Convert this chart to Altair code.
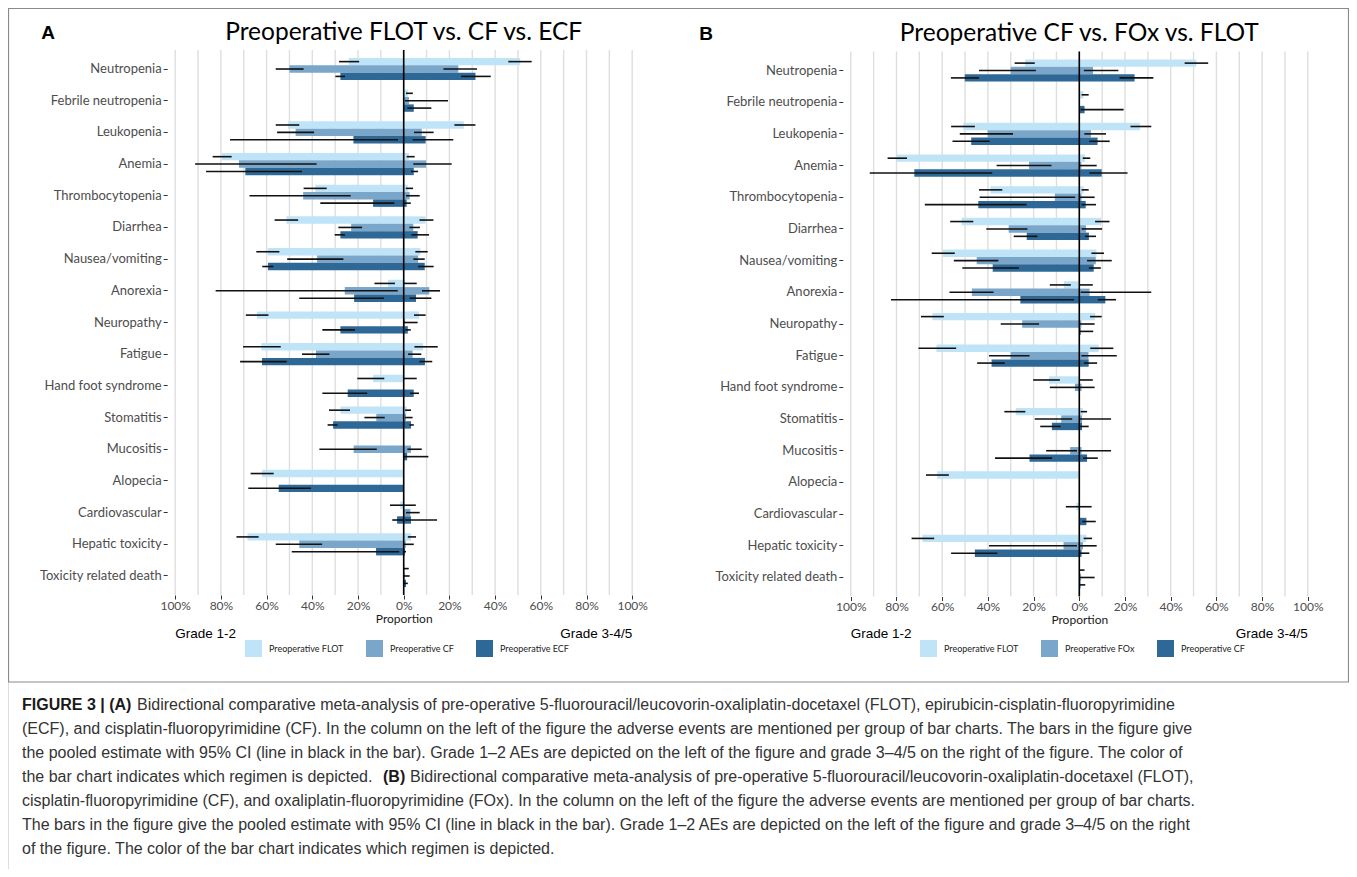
import altair as alt
import pandas as pd

W, H = 1341, 861

CATS = ["Neutropenia", "Febrile neutropenia", "Leukopenia", "Anemia", "Thrombocytopenia",
        "Diarrhea", "Nausea/vomiting", "Anorexia", "Neuropathy", "Fatigue",
        "Hand foot syndrome", "Stomatitis", "Mucositis", "Alopecia", "Cardiovascular",
        "Hepatic toxicity", "Toxicity related death"]

# ---------------- Panel A: FLOT vs CF vs ECF (values in %) ----------------
A_SERIES = ["Preoperative FLOT", "Preoperative CF", "Preoperative ECF"]

A_FLOT_G12 = [24, None, 50.6, 79.6, 38.7, 51.3, 59.5, 6.9, 64.2, 62.3, 13.4, 27.7, None, 62, 1.5, 68.4, None]
A_FLOT_G12_CI = [(19.5, 28.3), None, (45.7, 56), (75.3, 83.6), (33.7, 43.8), (46.2, 56.5), (54.4, 64.5),
                 (3.8, 12.8), (59.2, 69.1), (53.8, 70.3), (8.5, 20.3), (23.5, 32.7), None, (56.9, 67),
                 (0, 6), (63.5, 73.2), None]
A_FLOT_G34 = [51, 1.8, 26.3, 2.3, 1.8, 9.5, 7.3, 0.5, 6.7, 8.5, 0.3, 1.3, None, None, 0.3, 3.2, 0.5]
A_FLOT_G34_CI = [(45.8, 56), (1, 4), (22.2, 31.4), (1.3, 4.8), (0.9, 4.1), (6.9, 13), (5.1, 10.5),
                 (0, 5.7), (4.5, 9.6), (4.7, 14.9), (0, 5.7), (0.6, 3.2), None, None,
                 (0, 5.3), (1.8, 5.4), (0, 2.2)]

A_CF_G12 = [50, None, 47.3, 72.1, 44, 23, 37.9, 25.8, None, 38.4, None, 12, 21.9, None, None, 45.7, None]
A_CF_G12_CI = [(43.8, 56), None, (39.2, 55.4), (38.1, 91.3), (23.2, 67.5), (18.2, 28.6), (26.4, 51),
               (2.6, 82.3), None, (32.5, 44.5), None, (8.3, 17.2), (11.8, 36.9), None, None,
               (35.7, 56), None]
A_CF_G34 = [23.9, 2.3, 7.9, 9.8, 2.6, 4.2, 6.3, 11.2, 0.6, 3.9, None, 1.0, 3.2, None, 2.9, 0.9, 0.5]
A_CF_G34_CI = [(17.4, 32.1), (0.6, 19.4), (4.5, 13.1), (4.2, 21), (1, 7), (2.5, 7.1), (4.2, 9.2),
               (8, 15.9), (0, 6.1), (1.9, 7.7), None, (0.6, 3.9), (1.6, 7.9), None, (1, 7),
               (0, 4.4), (0, 2.6)]

A_ECF_G12 = [27.7, None, 22, 69.3, 13.4, 27.7, 59.4, 21.7, 27.7, 62, 24.5, 30.9, None, 54.7, 2.9, 12.1, None]
A_ECF_G12_CI = [(25.7, 29.9), None, (2.5, 76), (44.5, 86.5), (4.1, 36.5), (25.7, 30.2), (57, 61.9),
                (8.6, 45.7), (21.3, 35.6), (51.2, 71.6), (16, 35.6), (28.9, 33.3), None, (40.6, 68),
                (0, 5), (2, 49), None]
A_ECF_G34 = [31.4, 4.4, 9.6, 4.4, 1.3, 6.1, 9.2, 5.4, 1.8, 9.3, 4.4, 3.2, 1.5, None, 3.2, 0.5, 1.0]
A_ECF_G34_CI = [(25.1, 38.1), (1.6, 12.1), (3.9, 21.7), (3.2, 6.3), (0.1, 3.1), (3.4, 11.1), (6.3, 13.1),
                (2.6, 12.1), (0.7, 3.1), (6.9, 12.5), (2.8, 6.7), (2.5, 4.4), (0, 10.8), None,
                (0.6, 14.6), (0, 1), (0, 1.8)]

# ---------------- Panel B: CF vs FOx vs FLOT (values in %) ----------------
B_SERIES = ["Preoperative FLOT", "Preoperative FOx", "Preoperative CF"]

B_FLOT_G12 = [23.7, None, 50.8, 79.9, 38.9, 51.5, 59.6, 6.7, 64.3, 62.5, 13.3, 27.8, None, 62.2, 1.3, 68.7, None]
B_FLOT_G12_CI = [(19.5, 28.3), None, (45.7, 56.1), (75.4, 83.9), (33.7, 43.9), (46.4, 56.5), (54.5, 64.6),
                 (3.7, 12.9), (59.3, 69.3), (53.9, 70.4), (8.5, 20.2), (23.6, 32.8), None, (57.1, 67.1),
                 (0, 5.9), (63.5, 73.4), None]
B_FLOT_G34 = [51.2, 1.8, 26.6, 2.5, 1.9, 9.5, 7.5, 0.3, 6.9, 8.5, 0.3, 1.5, None, None, 0.3, 3.1, 0.3]
B_FLOT_G34_CI = [(46.1, 56.4), (1, 4.1), (22.4, 31.5), (1.5, 4.8), (1, 4.1), (6.9, 13.2), (5.3, 10.8),
                 (0, 5.9), (4.7, 9.8), (4.8, 14.9), (0, 5.9), (0.6, 3.4), None, None,
                 (0, 5.4), (1.9, 5.6), (0, 2.3)]

B_FOX_G12 = [30, None, 40.1, 22, 10.7, 30.9, 44.9, 47, 25, 30, 1.9, 7.9, 4, None, None, 6.9, None]
B_FOX_G12_CI = [(19, 43.9), None, (29, 52.3), (12.2, 36.2), (1.8, 43.6), (22.7, 40.7), (35.4, 54.9),
                (37.5, 56.8), (17.6, 34.4), (21.8, 39.5), (0, 12.9), (3.1, 19.5), (1, 14.5), None, None,
                (1, 39.5), None]
B_FOX_G34 = [6, None, 5.1, 0.9, 1, 2.9, 7.2, 4.5, 0.9, 4, 1, 1.2, 1, None, None, 1.6, 0.8]
B_FOX_G34_CI = [(2, 17.1), None, (2.2, 11.7), (0, 7.6), (0, 6.7), (1, 10), (3.4, 14.2), (0.6, 31.5),
                (0.3, 6.7), (0.9, 16.4), (0, 6.7), (0, 13.9), (0, 13.9), None, None, (0, 7.6), (0, 6.7)]

B_CF_G12 = [50.1, None, 47.3, 72.2, 44.2, 23, 37.9, 25.8, None, 38.4, None, 12, 21.8, None, None, 45.7, None]
B_CF_G12_CI = [(43.9, 56.2), None, (39.2, 55.5), (38.1, 91.7), (23.1, 67.6), (18.3, 28.7), (26.4, 51.2),
               (2.3, 82.4), None, (32.6, 44.7), None, (8.2, 17.1), (11.9, 36.9), None, None,
               (35.9, 56.1), None]
B_CF_G34 = [24.2, 2.3, 8, 9.8, 2.8, 4.2, 6.3, 11.4, 0.6, 4.1, None, 1.2, 3.4, None, 3.1, 1, 0.5]
B_CF_G34_CI = [(17.6, 32.4), (0.6, 19.4), (4.4, 13.3), (4.4, 21.1), (1, 7.3), (2.5, 7.3), (4.2, 9.4),
               (8.1, 16.1), (0, 6.1), (2, 7.8), None, (0.3, 4.1), (1.6, 8.1), None, (1.3, 7.2),
               (0, 4.4), (0, 2.6)]

COLORS = ["#bfe4f8", "#7aa6ca", "#2e6896"]
X_TICKS = [-100, -80, -60, -40, -20, 0, 20, 40, 60, 80, 100]
GRID = [-100, -90, -80, -70, -60, -50, -40, -30, -20, -10, 0, 10, 20, 30, 40, 50, 60, 70, 80, 90, 100]

CAPTION = [
    "Bidirectional comparative meta-analysis of pre-operative 5-fluorouracil/leucovorin-oxaliplatin-docetaxel (FLOT), epirubicin-cisplatin-fluoropyrimidine",
    "(ECF), and cisplatin-fluoropyrimidine (CF). In the column on the left of the figure the adverse events are mentioned per group of bar charts. The bars in the figure give",
    "the pooled estimate with 95% CI (line in black in the bar). Grade 1\u20132 AEs are depicted on the left of the figure and grade 3\u20134/5 on the right of the figure. The color of",
    "the bar chart indicates which regimen is depicted.",
    "Bidirectional comparative meta-analysis of pre-operative 5-fluorouracil/leucovorin-oxaliplatin-docetaxel (FLOT),",
    "cisplatin-fluoropyrimidine (CF), and oxaliplatin-fluoropyrimidine (FOx). In the column on the left of the figure the adverse events are mentioned per group of bar charts.",
    "The bars in the figure give the pooled estimate with 95% CI (line in black in the bar). Grade 1\u20132 AEs are depicted on the left of the figure and grade 3\u20134/5 on the right",
    "of the figure. The color of the bar chart indicates which regimen is depicted.",
]
CAPTION_BOLD = ["FIGURE 3 | (A)", "(B)"]

LABEL_FONT = "Lato"
CAP_FONT = "Liberation Sans"


def frames(series):
    bars, errs = [], []
    for name, g12, g12ci, g34, g34ci in series:
        for i, cat in enumerate(CATS):
            if g12[i] is not None:
                bars.append({"cat": cat, "series": name, "est": -g12[i]})
            if g12ci[i] is not None:
                errs.append({"cat": cat, "series": name, "lo": -g12ci[i][1], "hi": -g12ci[i][0]})
            if g34[i] is not None:
                bars.append({"cat": cat, "series": name, "est": g34[i]})
            if g34ci[i] is not None:
                errs.append({"cat": cat, "series": name, "lo": g34ci[i][0], "hi": g34ci[i][1]})
    return pd.DataFrame(bars), pd.DataFrame(errs)


def one():
    return pd.DataFrame({"k": [0]})


def panel(names, series, xr, yr, title, title_y, letter, letter_x, legend_x):
    bars, errs = frames(series)
    xs = alt.Scale(domain=[-103.5, 103.5], range=xr, nice=False, zero=False)
    ys = alt.Scale(domain=CATS, range=yr, paddingInner=0.3, paddingOuter=0.25)
    offs = alt.Scale(domain=names)
    cs = alt.Scale(domain=names, range=COLORS)

    x_axis = alt.Axis(orient="bottom", offset=yr[1] - H, values=X_TICKS,
                      labelExpr="abs(datum.value) + '%'", grid=False, domain=False,
                      tickSize=4, tickColor="#333333", tickWidth=1,
                      labelFont=LABEL_FONT, labelFontSize=12, labelColor="#4d4d4d",
                      labelPadding=1, labelFlush=False, labelOverlap=False,
                      title="Proportion", titleFont=LABEL_FONT, titleFontSize=12,
                      titleFontWeight="normal", titleColor="#1a1a1a", titlePadding=2)
    y_axis = alt.Axis(orient="left", offset=-xr[0], title=None, domain=False, grid=False,
                      tickSize=4, tickColor="#333333", tickWidth=1,
                      labelFont=LABEL_FONT, labelFontSize=13, labelColor="#4d4d4d",
                      labelPadding=2)
    legend = alt.Legend(orient="none", legendX=legend_x, legendY=632, direction="horizontal",
                        title=None, symbolType="square", symbolSize=289, symbolStrokeWidth=0,
                        symbolOpacity=1, labelFont=LABEL_FONT, labelFontSize=9,
                        labelColor="#222222", labelOffset=7, columnPadding=22)

    def X(field):
        return alt.X(field, scale=xs, axis=x_axis)

    def Y(field):
        return alt.Y(field, scale=ys, axis=y_axis)

    grid = alt.Chart(pd.DataFrame({"g": GRID})).mark_rule(color="#dedede", strokeWidth=1.4).encode(
        x=X("g:Q"), y=alt.value(yr[0]), y2=alt.value(yr[1]))

    bar = alt.Chart(bars).mark_bar().encode(
        x=alt.X("est:Q", scale=xs, axis=x_axis, stack=None),
        y=Y("cat:N"),
        yOffset=alt.YOffset("series:N", scale=offs),
        color=alt.Color("series:N", scale=cs, legend=legend),
    )

    err = alt.Chart(errs).mark_rule(color="#111111", strokeWidth=1.6).encode(
        x=X("lo:Q"), x2="hi:Q",
        y=Y("cat:N"),
        yOffset=alt.YOffset("series:N", scale=offs),
    )

    zero = alt.Chart(pd.DataFrame({"z": [0]})).mark_rule(color="black", strokeWidth=1.6).encode(
        x=X("z:Q"), y=alt.value(yr[0]), y2=alt.value(yr[1]))

    ttl = alt.Chart(one()).mark_text(text=title, font=LABEL_FONT, fontSize=24.5, color="#000000",
                                     baseline="middle", align="center").encode(
        x=X("k:Q"), y=alt.value(title_y))

    let = alt.Chart(one()).mark_text(text=letter, font=CAP_FONT, fontSize=19, fontWeight="bold",
                                     color="#000000", baseline="middle", align="center").encode(
        x=alt.value(letter_x), y=alt.value(title_y))

    g_left = alt.Chart(pd.DataFrame({"p": [-100]})).mark_text(
        text="Grade 1-2", font=CAP_FONT, fontSize=13.5, color="#000000", align="left",
        baseline="middle").encode(x=X("p:Q"), y=alt.value(626))
    g_right = alt.Chart(pd.DataFrame({"p": [100]})).mark_text(
        text="Grade 3-4/5", font=CAP_FONT, fontSize=13.5, color="#000000", align="right",
        baseline="middle").encode(x=X("p:Q"), y=alt.value(626))

    return alt.layer(grid, bar, err, zero, ttl, let, g_left, g_right)


panel_a = panel(
    A_SERIES,
    [(A_SERIES[0], A_FLOT_G12, A_FLOT_G12_CI, A_FLOT_G34, A_FLOT_G34_CI),
     (A_SERIES[1], A_CF_G12, A_CF_G12_CI, A_CF_G34, A_CF_G34_CI),
     (A_SERIES[2], A_ECF_G12, A_ECF_G12_CI, A_ECF_G34, A_ECF_G34_CI)],
    [159.2, 632.2], [42, 587], "Preoperative FLOT vs. CF vs. ECF", 25, "A", 40, 237)

panel_b = panel(
    B_SERIES,
    [(B_SERIES[0], B_FLOT_G12, B_FLOT_G12_CI, B_FLOT_G34, B_FLOT_G34_CI),
     (B_SERIES[1], B_FOX_G12, B_FOX_G12_CI, B_FOX_G34, B_FOX_G34_CI),
     (B_SERIES[2], B_CF_G12, B_CF_G12_CI, B_CF_G34, B_CF_G34_CI)],
    [834.8, 1307.8], [43.5, 588.5], "Preoperative CF vs. FOx vs. FLOT", 26, "B", 698, 912)

box = alt.Chart(one()).mark_rect(fillOpacity=0, stroke="#8a8a8a", strokeWidth=1.2).encode(
    x=alt.value(0.5), x2=alt.value(W - 0.5), y=alt.value(0.5), y2=alt.value(674))

cap_layers = []
CAP_X = 14
CAP_Y0 = 697
CAP_DY = 24
CAP_SIZE = 16
cap_pos = [(0, 0, 115), (1, 1, 0), (2, 2, 0), (3, 3, 0), (4, 3, 388), (5, 4, 0), (6, 5, 0), (7, 6, 0)]
for idx, row, dx in cap_pos:
    cap_layers.append(
        alt.Chart(pd.DataFrame({"t": [CAPTION[idx]]})).mark_text(
            font=CAP_FONT, fontSize=CAP_SIZE, color="#333333", align="left", baseline="middle"
        ).encode(text="t:N", x=alt.value(CAP_X + dx), y=alt.value(CAP_Y0 + row * CAP_DY)))
for txt, row, dx in [(CAPTION_BOLD[0], 0, 0), (CAPTION_BOLD[1], 3, 361)]:
    cap_layers.append(
        alt.Chart(pd.DataFrame({"t": [txt]})).mark_text(
            font=CAP_FONT, fontSize=CAP_SIZE, fontWeight="bold", color="#1a1a1a", align="left",
            baseline="middle"
        ).encode(text="t:N", x=alt.value(CAP_X + dx), y=alt.value(CAP_Y0 + row * CAP_DY)))

chart = alt.layer(panel_a, panel_b, box, *cap_layers).resolve_scale(
    x="independent", y="independent", yOffset="independent", color="independent"
).properties(
    width=W, height=H, autosize=alt.AutoSizeParams(type="none"), padding=0
).configure_view(stroke=None).configure(background="white")

chart.save("out.html", embed_options={"renderer": "svg", "actions": False})
